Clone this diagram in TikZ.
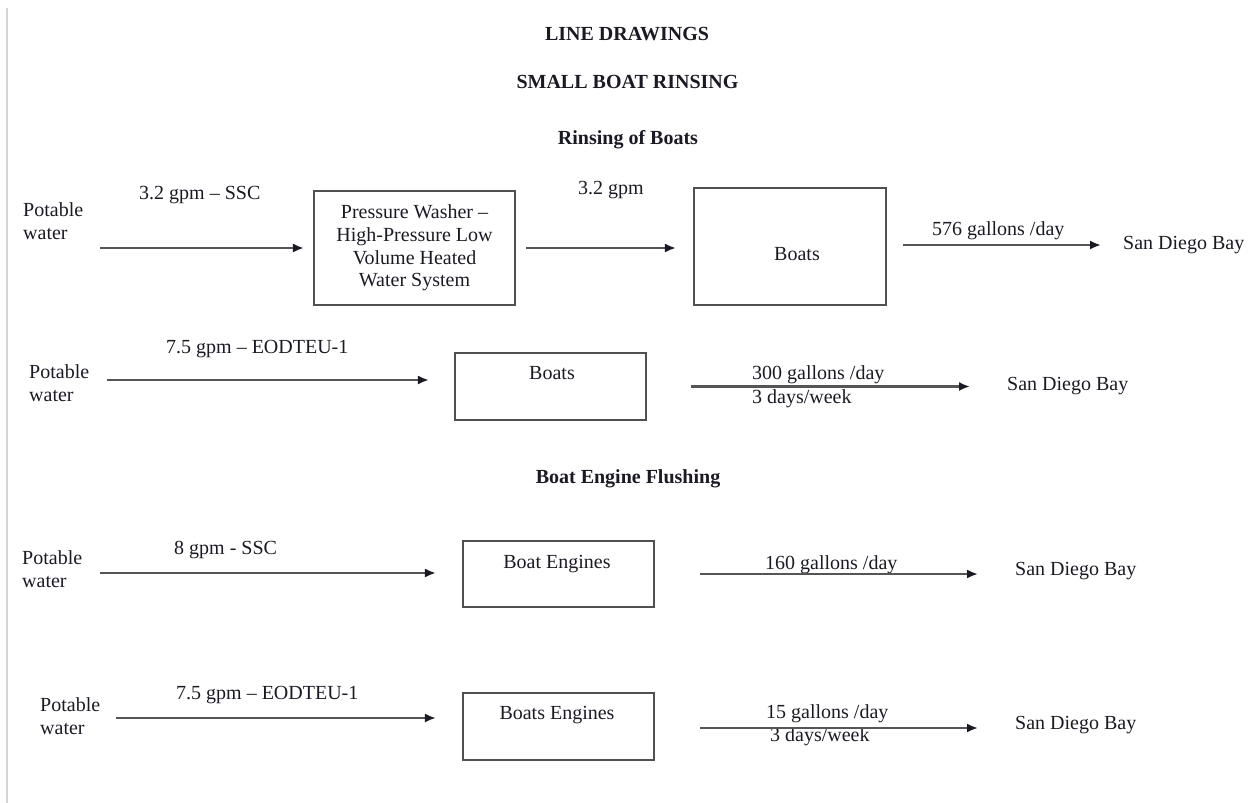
\documentclass[tikz,border=0pt]{standalone}
\usepackage{fontspec}
\setmainfont{Liberation Serif}
\usetikzlibrary{arrows.meta}
\definecolor{ink}{HTML}{1A1A24}
\definecolor{rule}{HTML}{505050}
\definecolor{flowc}{HTML}{555555}
\definecolor{margin}{HTML}{D4D4D4}
\begin{document}
\begin{tikzpicture}[x=1pt,y=-1pt,
  txt/.style={inner sep=0pt, font=\fontsize{20}{22.6}\selectfont, text=ink},
  ttl/.style={txt, font=\fontsize{20}{22.6}\selectfont\bfseries, anchor=base},
  lbl/.style={txt, anchor=base west, align=left},
  boxn/.style={draw=rule, line width=2.1pt, rectangle, inner sep=0pt},
  flow/.style={draw=flowc, line width=2.1pt, arrows={-{Latex[length=11pt,width=9pt,color=ink]}}}
]
\useasboundingbox (0,0) rectangle (1251,803);
\draw[margin, line width=1.6pt] (7,8) -- (7,803);

% titles
\node[ttl] (t1) at (627,40.5) {LINE DRAWINGS};
\node[ttl] (t2) at (627.5,88.5) {SMALL BOAT RINSING};
\node[ttl] (t3) at (628,144.5) {Rinsing of Boats};
\node[ttl] (t4) at (628,483.5) {Boat Engine Flushing};

% row 1
\node[lbl] (pw1) at (23,239.1) {Potable\\water};
\node[lbl] (l1) at (139,199.5) {3.2 gpm -- SSC};
\node[boxn, minimum width=201pt, minimum height=114pt, txt, align=center] (box1) at (414.5,248) {Pressure Washer --\\High-Pressure Low\\Volume Heated\\Water System};
\node[lbl] (l2) at (578,194.5) {3.2 gpm};
\node[boxn, minimum width=192pt, minimum height=117pt] (box2) at (790,246.5) {};
\node[txt, anchor=base] (b2t) at (797,260.5) {Boats};
\node[lbl] (l3) at (932,235.5) {576 gallons /day};
\node[lbl] (sdb1) at (1123,249.5) {San Diego Bay};
\coordinate (s1) at (100,248);
\draw[flow, shorten >=9pt] (s1) -- (box1.west);
\draw[flow, shorten <=10pt, shorten >=17pt] (box1.east) -- (box1.east -| box2.west);
\draw[flow, shorten <=16pt, shorten >=22pt] ([yshift=1.5pt]box2.east) -- ([yshift=1.5pt]box2.east -| sdb1.west);

% row 2
\node[lbl] (pw2) at (29,401.1) {Potable\\water};
\node[lbl] (l4) at (166,353.5) {7.5 gpm -- EODTEU-1};
\node[boxn, minimum width=191pt, minimum height=67pt] (box3) at (550.5,386.5) {};
\node[txt, anchor=base] (b3t) at (552,379.5) {Boats};
\node[lbl, font=\fontsize{20}{24}\selectfont] (l5) at (752,403.5) {300 gallons /day\\3 days/week};
\node[lbl] (sdb2) at (1007,390.5) {San Diego Bay};
\coordinate (s2) at (107,380);
\draw[flow, shorten >=25pt] (s2) -- (s2 -| box3.west);
\draw[flow, shorten <=44pt, shorten >=37pt] (box3.east) -- (box3.east -| sdb2.west);

% row 3
\node[lbl] (pw3) at (22,587.1) {Potable\\water};
\node[lbl] (l6) at (174,554.5) {8 gpm - SSC};
\node[boxn, minimum width=191pt, minimum height=66pt] (box4) at (558.5,574) {};
\node[txt, anchor=base] (b4t) at (557,568.5) {Boat Engines};
\node[lbl] (l7) at (765,569.5) {160 gallons /day};
\node[lbl] (sdb3) at (1015,575.5) {San Diego Bay};
\coordinate (s3) at (100,573);
\draw[flow, shorten >=26pt] (s3) -- (s3 -| box4.west);
\draw[flow, shorten <=45pt, shorten >=37pt] (box4.east) -- (box4.east -| sdb3.west);

% row 4
\node[lbl] (pw4) at (40,734.1) {Potable\\water};
\node[lbl] (l8) at (176,699.5) {7.5 gpm -- EODTEU-1};
\node[boxn, minimum width=191pt, minimum height=67pt] (box5) at (558.5,726.5) {};
\node[txt, anchor=base] (b5t) at (557,719.5) {Boats Engines};
\node[lbl] (l9) at (766,741.1) {15 gallons /day\\\hspace*{4pt}3 days/week};
\node[lbl] (sdb4) at (1015,729.5) {San Diego Bay};
\coordinate (s4) at (116,718);
\draw[flow, shorten >=26pt] (s4) -- (s4 -| box5.west);
\draw[flow, shorten <=45pt, shorten >=37pt] ([yshift=-1.5pt]box5.east) -- ([yshift=-1.5pt]box5.east -| sdb4.west);
\end{tikzpicture}
\end{document}
